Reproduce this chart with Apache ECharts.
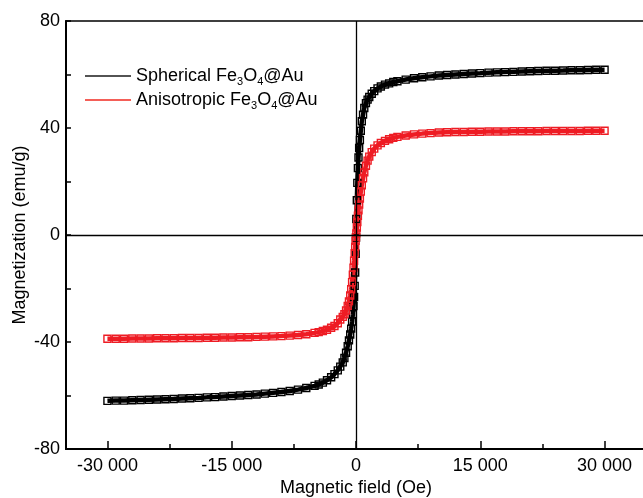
<!DOCTYPE html>
<html>
<head>
<meta charset="utf-8">
<script src="https://cdn.jsdelivr.net/npm/echarts@6/dist/echarts.min.js"></script>
<style>html,body{margin:0;padding:0;background:#fff}#c{width:643px;height:498px}</style>
</head>
<body>
<div id="c"></div>
<script>
// Magnetic field (Oe)
const fieldOe = [
  -30000,-29000,-28000,-27000,-26000,-25000,-24000,-23000,-22000,-21000,
  -20000,-19000,-18000,-17000,-16000,-15000,-14000,-13000,-12000,-11000,
  -10000,-9000,-8000,-7000,-6000,-5000,-4500,-4000,-3500,-3000,
  -2600,-2200,-1900,-1600,-1400,-1200,-1000,-850,-700,-580,
  -470,-380,-300,-230,-160,-100,-40,0,40,100,
  160,230,300,380,470,580,700,850,1000,1200,
  1400,1600,1900,2200,2600,3000,3500,4000,4500,5000,
  6000,7000,8000,9000,10000,11000,12000,13000,14000,15000,
  16000,17000,18000,19000,20000,21000,22000,23000,24000,25000,
  26000,27000,28000,29000,30000
];
// Spherical Fe3O4@Au magnetization (emu/g)
const magSpherical = [
  -62.0,-61.9,-61.9,-61.8,-61.7,-61.6,-61.5,-61.4,-61.3,-61.1,
  -61.0,-60.9,-60.7,-60.6,-60.4,-60.2,-60.0,-59.8,-59.6,-59.3,
  -59.0,-58.7,-58.3,-57.8,-57.2,-56.4,-55.9,-55.2,-54.3,-53.2,
  -52.0,-50.6,-49.2,-47.6,-46.0,-44.0,-41.6,-39.4,-37.2,-35.0,
  -32.4,-29.6,-26.6,-23.2,-19.0,-14.0,-7.0,-1.0,6.0,13.0,
  19.5,25.0,29.0,32.5,35.5,39.0,42.5,45.0,47.5,49.3,
  50.6,51.6,52.8,53.8,54.8,55.5,56.2,56.7,57.2,57.5,
  58.1,58.6,59.0,59.3,59.6,59.8,60.0,60.2,60.4,60.5,
  60.7,60.8,60.9,61.0,61.1,61.2,61.3,61.4,61.4,61.5,
  61.6,61.6,61.7,61.8,61.8
];
// Anisotropic Fe3O4@Au magnetization (emu/g)
const magAnisotropic = [
  -38.8,-38.8,-38.8,-38.7,-38.7,-38.7,-38.6,-38.6,-38.6,-38.5,
  -38.5,-38.5,-38.4,-38.4,-38.3,-38.3,-38.2,-38.2,-38.1,-38.0,
  -37.9,-37.8,-37.6,-37.4,-37.1,-36.6,-36.3,-35.9,-35.4,-34.7,
  -34.0,-33.0,-31.6,-30.6,-29.6,-28.2,-26.5,-24.8,-22.6,-20.3,
  -17.6,-14.8,-12.2,-9.6,-6.8,-4.4,-2.2,-0.8,0.6,2.8,
  4.8,7.2,9.2,11.4,13.6,16.2,18.6,21.2,23.4,25.9,
  27.8,29.3,31.0,32.3,33.5,34.4,35.2,35.8,36.3,36.7,
  37.2,37.6,37.9,38.1,38.3,38.4,38.5,38.5,38.6,38.6,
  38.7,38.7,38.7,38.8,38.8,38.8,38.8,38.9,38.9,38.9,
  38.9,38.9,39.0,39.0,39.0
];
const xMajorTicks = [-30000, -15000, 0, 15000, 30000];
const xMinorTicks = [-22500, -7500, 7500, 22500];
const seriesNames = ['Spherical', 'Anisotropic'];
const seriesColors = ['#000000', '#ee1c24'];

const FONT = '"Liberation Sans", Arial, Helvetica, sans-serif';
function fmtX(v) {
  if (v === 0) return '0';
  const s = Math.abs(v).toString().replace(/\B(?=(\d{3})+(?!\d))/g, ' ');
  return (v < 0 ? '-' : '') + s;
}
function pairs(ys) { return fieldOe.map((x, i) => [x, ys[i]]); }

const chart = echarts.init(document.getElementById('c'), null, {renderer: 'canvas'});
const mk = (name, color, ys, extra) => Object.assign({
  name: name,
  type: 'line',
  data: pairs(ys),
  color: color,
  symbol: 'rect',
  symbolSize: 7,
  showSymbol: true,
  showAllSymbol: true,
  lineStyle: {color: color, width: 4.5},
  itemStyle: {color: 'rgba(0,0,0,0)', borderColor: color, borderWidth: 1.4},
  emphasis: {disabled: true},
  animation: false
}, extra || {});

chart.setOption({
  animation: false,
  textStyle: {fontFamily: FONT},
  grid: {left: 66, top: 21, right: -3, bottom: 49, outerBoundsMode: 'none', containLabel: false, show: true, borderColor: '#000', borderWidth: 1.5, backgroundColor: 'transparent'},
  legend: {
    orient: 'vertical',
    left: 80,
    top: 62,
    itemGap: 4,
    itemWidth: 46,
    itemHeight: 1.5,
    icon: 'rect',
    selectedMode: false,
    data: [
      {name: seriesNames[0], itemStyle: {color: '#1a1a1a', borderWidth: 0}},
      {name: seriesNames[1], itemStyle: {color: '#f02a20', borderWidth: 0}}
    ],
    formatter: function (name) {
      return '{n|' + name + ' Fe}{s|3}{n|O}{s|4}{n|@Au}';
    },
    textStyle: {
      fontFamily: FONT,
      color: '#000',
      rich: {
        n: {fontSize: 18, lineHeight: 22, verticalAlign: 'middle', fontFamily: FONT, color: '#000'},
        s: {fontSize: 11, lineHeight: 22, verticalAlign: 'bottom', fontFamily: FONT, color: '#000'}
      }
    }
  },
  xAxis: [{
    type: 'value',
    min: -35000,
    max: 35000,
    name: 'Magnetic field (Oe)',
    nameLocation: 'middle',
    nameGap: 30,
    nameMoveOverlap: false,
    nameTextStyle: {fontSize: 18, color: '#000', fontFamily: FONT},
    axisLine: {show: true, onZero: false, lineStyle: {color: '#000', width: 2}},
    axisTick: {show: true, inside: true, length: 8, lineStyle: {color: '#000', width: 1.5}, customValues: xMajorTicks},
    axisLabel: {show: true, fontSize: 18, color: '#000', margin: 8, fontFamily: FONT, customValues: xMajorTicks, formatter: fmtX},
    splitLine: {show: false}
  }, {
    type: 'value',
    min: -35000,
    max: 35000,
    position: 'bottom',
    axisLine: {show: false, onZero: false},
    axisTick: {show: true, inside: true, length: 5, lineStyle: {color: '#000', width: 1.5}, customValues: xMinorTicks},
    axisLabel: {show: false},
    splitLine: {show: false}
  }],
  yAxis: {
    type: 'value',
    min: -80,
    max: 80,
    interval: 40,
    name: 'Magnetization (emu/g)',
    nameLocation: 'middle',
    nameRotate: 90,
    nameGap: 37,
    nameMoveOverlap: false,
    nameTextStyle: {fontSize: 18, color: '#000', fontFamily: FONT},
    axisLine: {show: true, onZero: false, lineStyle: {color: '#000', width: 2}},
    axisTick: {show: true, inside: true, length: 5, lineStyle: {color: '#000', width: 1.5}},
    minorTick: {show: true, splitNumber: 2, length: 5, lineStyle: {color: '#000', width: 1.5}},
    axisLabel: {fontSize: 18, color: '#000', margin: 6, fontFamily: FONT},
    splitLine: {show: false},
    minorSplitLine: {show: false}
  },
  series: [
    mk(seriesNames[0], seriesColors[0], magSpherical, {
      markLine: {
        silent: true,
        symbol: ['none', 'none'],
        label: {show: false},
        animation: false,
        lineStyle: {color: '#000', width: 1.3, type: 'solid'},
        emphasis: {disabled: true},
        data: [{xAxis: 0}, {yAxis: 0}]
      }
    }),
    mk(seriesNames[1], seriesColors[1], magAnisotropic)
  ]
});
</script>
</body>
</html>
